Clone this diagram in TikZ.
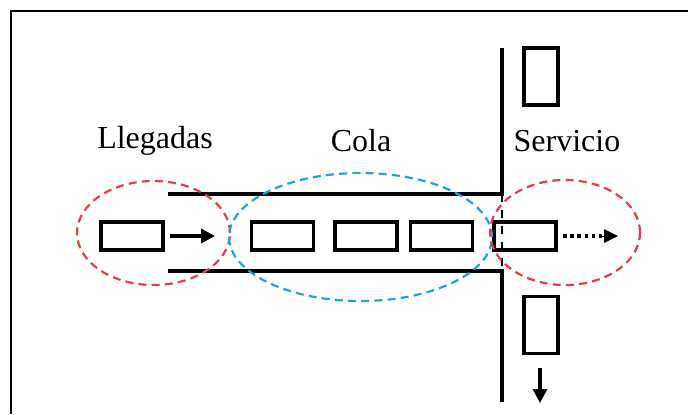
\documentclass[tikz,border=0pt]{standalone}
\usepackage{fontspec}
\setmainfont{Liberation Serif}
\usetikzlibrary{shapes.geometric,arrows.meta}
\definecolor{zonered}{RGB}{228,62,72}
\definecolor{zoneblue}{RGB}{38,160,218}
\begin{document}
\begin{tikzpicture}[x=0.5pt,y=-0.5pt,
  client/.style={draw,line width=1.6pt,minimum width=31pt,minimum height=14pt,inner sep=0pt},
  vclient/.style={draw,line width=1.6pt,minimum width=17pt,minimum height=28.5pt,inner sep=0pt},
  zone/.style={draw,ellipse,inner sep=0pt,line width=1.1pt,dash pattern=on 4pt off 2.6pt},
  wall/.style={line width=1.6pt},
  label/.style={font=\fontsize{16}{19}\selectfont,inner sep=0pt},
  flow/.style={line width=1.7pt,-{Triangle[length=7pt,width=7pt]}}]
\useasboundingbox (0,0) rectangle (688,414);
\fill[white] (0,0) rectangle (688,414);

% outer frame (top and left edges)
\coordinate (fa) at (688,11);
\coordinate (fb) at (11,11);
\coordinate (fc) at (11,414);
\draw[line width=1.3pt] (fa) -- (fb) -- (fc);

% headings
\node[label] (lleg) at (155,141) {Llegadas};
\node[label] (cola) at (361,141) {Cola};
\node[label] (serv) at (567,141) {Servicio};

% channel walls and service wall
\coordinate (ct1) at (168,194);
\coordinate (ct2) at (502,194);
\coordinate (cb1) at (168,271);
\coordinate (cb2) at (502,271);
\coordinate (wt) at (502,48);
\coordinate (wb) at (502,402);
\draw[wall] (ct1) -- (ct2) -- (wt);
\draw[wall] (cb1) -- (cb2) -- (wb);
\draw[line width=1pt,dash pattern=on 4pt off 4pt] (ct2) -- (cb2);

% clients
\node[client] (c0) at (132,236) {};
\node[client] (c1) at (282.5,236) {};
\node[client] (c2) at (366,236) {};
\node[client] (c3) at (441.5,236) {};
\node[client] (c4) at (525,236) {};
\node[vclient] (s1) at (541,76.5) {};
\node[vclient] (s2) at (541,325) {};

% zones
\node[zone,draw=zonered,minimum width=76.5pt,minimum height=52pt] (zin) at (153.5,233) {};
\node[zone,draw=zoneblue,minimum width=131.5pt,minimum height=64pt] (zq) at (360.5,237) {};
\node[zone,draw=zonered,minimum width=75pt,minimum height=52.5pt] (zout) at (565,232.5) {};

% flows
\coordinate (a0) at (170,236);
\coordinate (a1) at (215,236);
\draw[flow] (a0) -- (a1);
\coordinate (d0) at (563,236);
\coordinate (d1) at (618,236);
\draw[line width=1.7pt,dash pattern=on 1.8pt off 1.8pt] (d0) -- (602,236);
\draw[line width=0pt,-{Triangle[length=7pt,width=7pt]}] (602,236) -- (d1);
\coordinate (e0) at (540,368);
\coordinate (e1) at (540,403);
\draw[flow] (e0) -- (e1);
\end{tikzpicture}
\end{document}
